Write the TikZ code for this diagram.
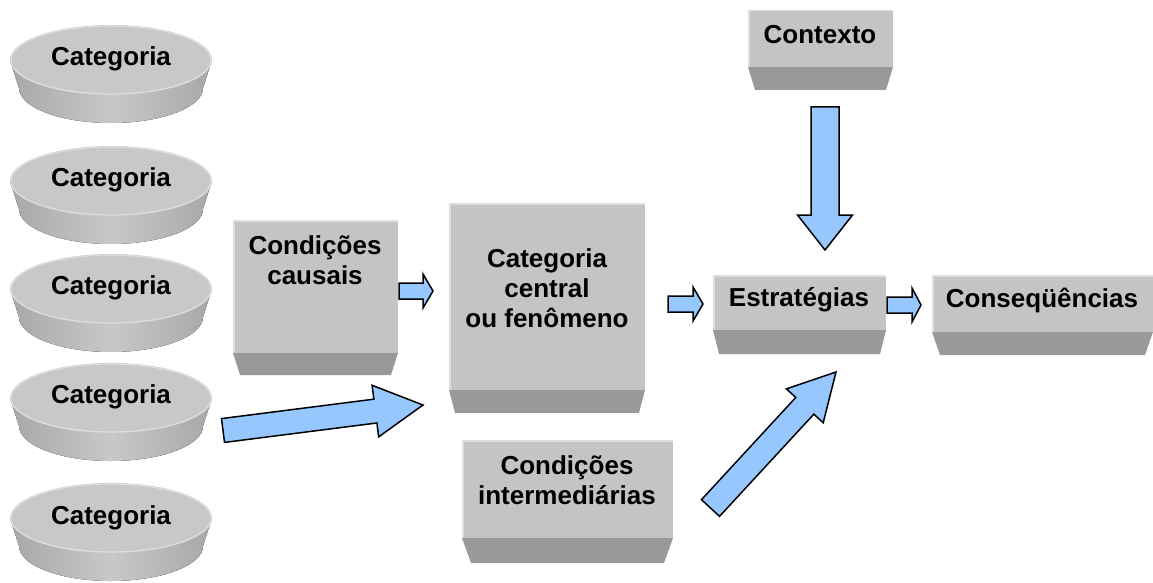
\documentclass[tikz,border=0pt]{standalone}
\usepackage{fontspec}
\setmainfont{Liberation Sans}
\usetikzlibrary{calc}
\definecolor{boxface}{RGB}{196,196,196}
\definecolor{boxbevel}{RGB}{153,153,153}
\definecolor{boxlight}{RGB}{222,222,222}
\definecolor{discface}{RGB}{200,200,200}
\definecolor{discrim}{RGB}{222,222,222}
\definecolor{discmid}{RGB}{200,200,200}
\definecolor{discedge}{RGB}{168,168,168}
\definecolor{arrowblue}{RGB}{150,200,255}

\tikzset{
  txt/.style={font=\bfseries\fontsize{26}{30}\selectfont, align=center, inner sep=0pt, text=black},
  arrowbody/.style={fill=arrowblue, draw=black, line width=1.5pt, line join=miter},
}

% bevelled box: left, top, right, face bottom, bevel bottom, bevel inset
\newcommand\bevelbox[6]{%
  \fill[boxbevel] (#1,#4) -- (#3,#4) -- (#3-#6,#5) -- (#1+#6,#5) -- cycle;
  \fill[boxface] (#1,#2) rectangle (#3,#4);
  \draw[boxlight, line width=1.5pt] (#1+0.75,#4) -- (#1+0.75,#2+0.75) -- (#3,#2+0.75);
}

% flat disc: centre x, centre y of the top face
\newcommand\catdisc[2]{%
  \fill[left color=discedge, right color=discedge, middle color=discmid]
    (#1-101,#2) -- (#1-92,#2+28)
    arc[start angle=180, end angle=360, x radius=92pt, y radius=35pt]
    -- (#1+101,#2) -- cycle;
  \fill[discface] (#1,#2) ellipse[x radius=101pt, y radius=35pt];
  \draw[discrim, line width=1.2pt] (#1,#2) ellipse[x radius=100pt, y radius=34pt];
}

% block arrow: tail, tip, shaft half-width, head half-width, head length, name
\newcommand\blockarrow[6]{%
  \coordinate (#6-hb) at ($(#2)!#5!(#1)$);
  \draw[arrowbody]
    ($(#1)!#3!90:(#2)$) -- ($(#6-hb)!#3!90:(#2)$) -- ($(#6-hb)!#4!90:(#2)$)
    -- (#2)
    -- ($(#6-hb)!#4!-90:(#2)$) -- ($(#6-hb)!#3!-90:(#2)$) -- ($(#1)!#3!-90:(#2)$) -- cycle;
}

\begin{document}
\begin{tikzpicture}[x=1pt, y=-1pt]
\useasboundingbox (0,0) rectangle (1153,583);

% categories on the left
\catdisc{111}{60}
\node[txt] (cat1) at (111,59) {Categoria};
\catdisc{111}{181}
\node[txt] (cat2) at (111,180) {Categoria};
\catdisc{111}{289}
\node[txt] (cat3) at (111,288) {Categoria};
\catdisc{111}{398}
\node[txt] (cat4) at (111,397) {Categoria};
\catdisc{111}{518}
\node[txt] (cat5) at (111,518) {Categoria};

% boxes
\bevelbox{748}{10}{893}{67}{90}{7}
\node[txt] (ctx) at (820,35) {Contexto};

\bevelbox{233}{220}{398}{353}{375}{7}
\node[txt] (caus) at (315,260) {Condições\\causais};

\bevelbox{449}{203}{645}{390}{413}{6}
\node[txt] (cent) at (547,288) {Categoria\\central\\ou fenômeno};

\bevelbox{713}{275}{886}{330}{354}{6}
\node[txt] (estr) at (799,300) {Estratégias};

\bevelbox{932}{275}{1153}{332}{355}{8}
\node[txt] (cons) at (1042,300) {Conseqüências};

\bevelbox{462}{440}{673}{538}{563}{9}
\node[txt] (inter) at (567,480) {Condições\\intermediárias};

% arrow end points
\coordinate (a1t) at (399,291);   \coordinate (a1h) at (433,291);
\coordinate (a2t) at (668,304);   \coordinate (a2h) at (703,304);
\coordinate (a3t) at (887,305);   \coordinate (a3h) at (921,305);
\coordinate (a4t) at (825,107);   \coordinate (a4h) at (825,250);
\coordinate (a5t) at (223,430.5); \coordinate (a5h) at (423,405);
\coordinate (a6t) at (710.5,508); \coordinate (a6h) at (836,372);

\blockarrow{a1t}{a1h}{8pt}{17pt}{10pt}{a1}
\blockarrow{a2t}{a2h}{8pt}{17pt}{10pt}{a2}
\blockarrow{a3t}{a3h}{8pt}{17pt}{9pt}{a3}
\blockarrow{a4t}{a4h}{14pt}{27.5pt}{35pt}{a4}
\blockarrow{a5t}{a5h}{12pt}{26pt}{48pt}{a5}
\blockarrow{a6t}{a6h}{12.3pt}{25pt}{46pt}{a6}
\end{tikzpicture}
\end{document}
